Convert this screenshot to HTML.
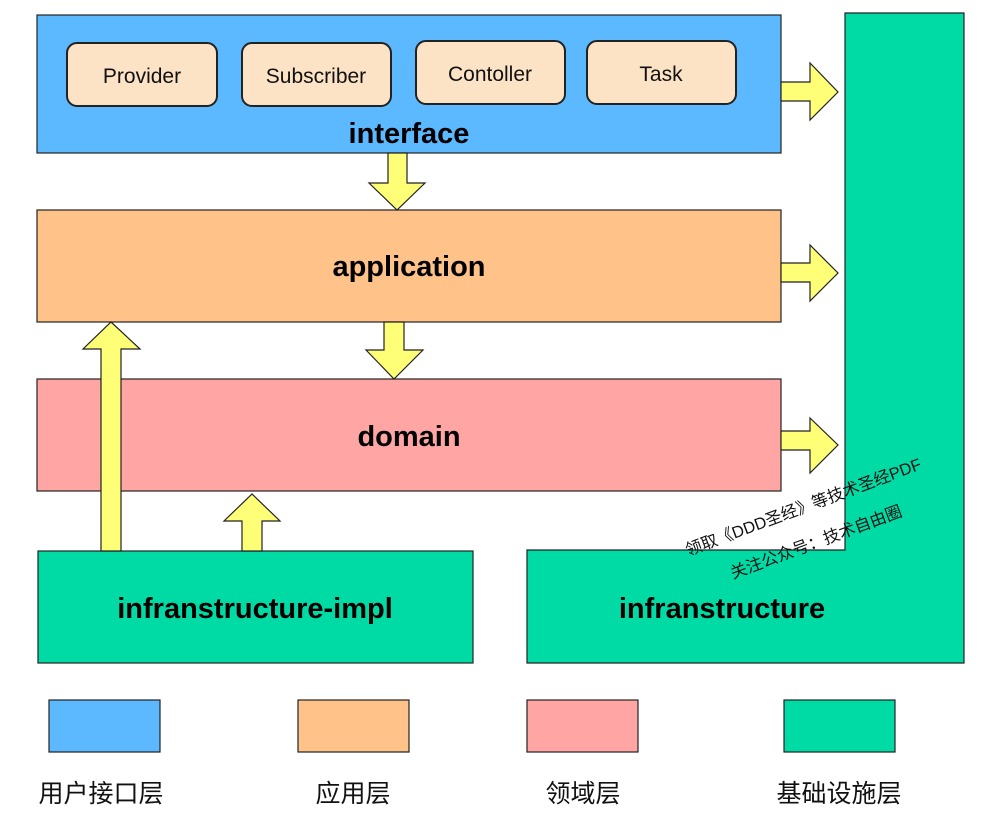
<!DOCTYPE html>
<html><head><meta charset="utf-8"><style>
html,body{margin:0;padding:0;background:#fff;width:994px;height:816px;overflow:hidden}
svg{display:block}
text{font-family:"Liberation Sans","Noto Sans CJK SC",sans-serif}
</style></head><body>
<svg width="994" height="816" viewBox="0 0 994 816" xmlns="http://www.w3.org/2000/svg">
<g stroke="#222" stroke-width="1.2">
<rect x="37" y="15" width="744" height="138" fill="#5CB8FF"/>
<rect x="37" y="210" width="744" height="112" fill="#FFC289"/>
<rect x="37" y="379" width="744" height="112" fill="#FFA5A3"/>
<rect x="38" y="551" width="435" height="112" fill="#00DBA6"/>
<polygon points="845,13 964,13 964,663 527,663 527,550 845,550" fill="#00DBA6"/>
<g fill="#FDE3C5" stroke-width="2">
<rect x="67" y="43" width="150" height="63" rx="10"/>
<rect x="242" y="43" width="149" height="63" rx="10"/>
<rect x="416" y="41" width="149" height="63" rx="10"/>
<rect x="587" y="41" width="149" height="63" rx="10"/>
</g>
<g fill="#FFFF77">
<polygon points="388,153 407,153 407,183 425,183 397,210 369,183 388,183"/>
<polygon points="384,322 404,322 404,350 423,350 394,379 366,350 384,350"/>
<polygon points="781,82 810,82 810,63 838,92 810,120 810,101 781,101"/>
<polygon points="781,263 810,263 810,245 838,273 810,301 810,282 781,282"/>
<polygon points="781,431 810,431 810,418 838,445 810,473 810,450 781,450"/>
<polygon points="101,551 101,349 83,349 111,322 140,349 121,349 121,551"/>
<polygon points="242,551 242,521 224,521 252,494 280,521 262,521 262,551"/>
</g>
<rect x="49" y="700" width="111" height="52" fill="#5CB8FF"/>
<rect x="298" y="700" width="111" height="52" fill="#FFC289"/>
<rect x="527" y="700" width="111" height="52" fill="#FFA5A3"/>
<rect x="784" y="700" width="111" height="52" fill="#00DBA6"/>
</g>
<g font-size="21" text-anchor="middle" fill="#111">
<text x="142" y="83">Provider</text>
<text x="316" y="83">Subscriber</text>
<text x="490" y="81">Contoller</text>
<text x="661" y="81">Task</text>
</g>
<g font-size="29" font-weight="bold" text-anchor="middle" fill="#000">
<text x="409" y="143">interface</text>
<text x="409" y="276">application</text>
<text x="409" y="446">domain</text>
<text x="255" y="618">infranstructure-impl</text>
<text x="722" y="618">infranstructure</text>
</g>
<g font-size="25" text-anchor="middle" fill="#111">
<text x="101" y="802">用户接口层</text>
<text x="353" y="802">应用层</text>
<text x="583" y="802">领域层</text>
<text x="839" y="802">基础设施层</text>
</g>
<g font-size="16.5" fill="#111">
<text transform="translate(688,556) rotate(-20.4)">领取《DDD圣经》等技术圣经PDF</text>
<text transform="translate(733,579) rotate(-20.4)">关注公众号：技术自由圈</text>
</g>
</svg>
</body></html>
